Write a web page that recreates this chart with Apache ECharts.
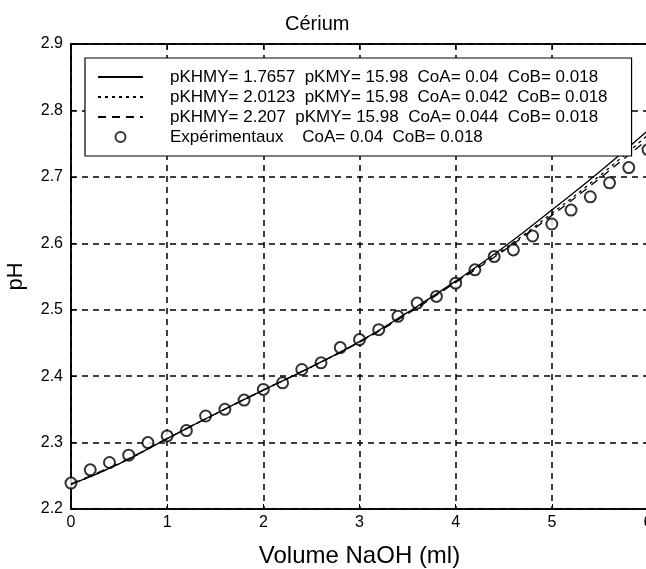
<!DOCTYPE html>
<html>
<head>
<meta charset="utf-8">
<script src="https://cdn.jsdelivr.net/npm/echarts@6/dist/echarts.min.js"></script>
<style>
  html, body { margin: 0; padding: 0; background: #fff; }
  #chart { width: 646px; height: 569px; }
</style>
</head>
<body>
<div id="chart"></div>
<script>
// model curves, read every 0.5 ml
const curveX = [0, 0.5, 1, 1.5, 2, 2.5, 3, 3.5, 4, 4.5, 5, 5.5, 6];
const fit1 = [2.237, 2.268, 2.306, 2.343, 2.379, 2.414, 2.452, 2.496, 2.543, 2.594, 2.650, 2.708, 2.770];
const fit2 = [2.237, 2.268, 2.306, 2.343, 2.379, 2.414, 2.452, 2.495, 2.542, 2.591, 2.645, 2.702, 2.763];
const fit3 = [2.238, 2.269, 2.306, 2.343, 2.379, 2.414, 2.451, 2.494, 2.541, 2.589, 2.642, 2.698, 2.757];

// experimental points, every 0.2 ml
const expX = [0, 0.2, 0.4, 0.6, 0.8, 1, 1.2, 1.4, 1.6, 1.8, 2, 2.2, 2.4, 2.6, 2.8, 3,
  3.2, 3.4, 3.6, 3.8, 4, 4.2, 4.4, 4.6, 4.8, 5, 5.2, 5.4, 5.6, 5.8, 6];
const expPH = [2.239, 2.259, 2.270, 2.281, 2.300, 2.310, 2.318, 2.340, 2.350, 2.364, 2.380,
  2.390, 2.410, 2.420, 2.443, 2.455, 2.470, 2.490, 2.510, 2.520, 2.540, 2.560, 2.580,
  2.590, 2.611, 2.629, 2.650, 2.670, 2.691, 2.714, 2.741];

const names = [
  'pKHMY= 1.7657  pKMY= 15.98  CoA= 0.04  CoB= 0.018',
  'pKHMY= 2.0123  pKMY= 15.98  CoA= 0.042  CoB= 0.018',
  'pKHMY= 2.207  pKMY= 15.98  CoA= 0.044  CoB= 0.018',
  'Expérimentaux    CoA= 0.04  CoB= 0.018'
];

const pairs = (xs, ys) => xs.map((x, i) => [x, ys[i]]);
const FONT = '"Liberation Sans", Arial, sans-serif';
const grid = { type: [6, 5], color: '#000', width: 1.5 };
const noDot = { opacity: 0 };

const chart = echarts.init(document.getElementById('chart'));
chart.setOption({
  backgroundColor: '#fff',
  animation: false,
  title: {
    text: 'Cérium',
    left: 280,
    top: 9,
    textStyle: { fontFamily: FONT, fontSize: 20, fontWeight: 'normal', color: '#000' }
  },
  legend: {
    orient: 'vertical',
    left: 85,
    top: 58,
    padding: [9, 24, 9, 12],
    itemGap: 0,
    itemWidth: 45,
    itemHeight: 10,
    backgroundColor: '#fff',
    borderColor: '#000',
    borderWidth: 1.2,
    textStyle: { fontFamily: FONT, fontSize: 17, color: '#000', padding: [0, 0, 0, 22], lineHeight: 20 },
    data: [
      { name: names[0], itemStyle: noDot },
      { name: names[1], itemStyle: noDot },
      { name: names[2], itemStyle: noDot },
      { name: names[3], icon: 'emptyCircle', itemStyle: { color: '#000', borderColor: '#000', borderWidth: 1.3 } }
    ]
  },
  grid: {
    show: true,
    left: 71,
    top: 44,
    width: 577,
    height: 465,
    outerBoundsMode: 'none',
    containLabel: false,
    borderColor: '#000',
    borderWidth: 1.5
  },
  xAxis: [
    {
      type: 'value',
      min: 0,
      max: 6,
      interval: 1,
      name: 'Volume NaOH (ml)',
      nameLocation: 'middle',
      nameGap: 35,
      nameTextStyle: { fontFamily: FONT, fontSize: 24, color: '#000' },
      axisLine: { lineStyle: { color: '#000', width: 1.5 } },
      axisTick: { inside: true, length: 5, lineStyle: { color: '#000' } },
      axisLabel: { fontFamily: FONT, fontSize: 16, color: '#000', margin: 6 },
      splitLine: { show: true, lineStyle: grid }
    },
    {
      type: 'value',
      position: 'top',
      min: 0,
      max: 6,
      interval: 1,
      axisLine: { lineStyle: { color: '#000', width: 1.5 } },
      axisTick: { inside: true, length: 5, lineStyle: { color: '#000' } },
      axisLabel: { show: false },
      splitLine: { show: false }
    }
  ],
  yAxis: {
    type: 'value',
    min: 2.2,
    max: 2.9,
    interval: 0.1,
    name: 'pH',
    nameLocation: 'middle',
    nameGap: 44,
    nameRotate: 90,
    nameTextStyle: { fontFamily: FONT, fontSize: 22, color: '#000' },
    axisLine: { lineStyle: { color: '#000', width: 1.5 } },
    axisTick: { inside: true, length: 5, lineStyle: { color: '#000' } },
    axisLabel: { fontFamily: FONT, fontSize: 16, color: '#000', margin: 8, formatter: v => v.toFixed(1) },
    splitLine: { show: true, lineStyle: grid }
  },
  series: [
    {
      name: names[0],
      type: 'line',
      smooth: true,
      symbol: 'none',
      lineStyle: { color: '#000', width: 1.3, type: 'solid' },
      itemStyle: { color: '#000' },
      data: pairs(curveX, fit1)
    },
    {
      name: names[1],
      type: 'line',
      smooth: true,
      symbol: 'none',
      lineStyle: { color: '#000', width: 1.3, type: [3, 4] },
      itemStyle: { color: '#000' },
      data: pairs(curveX, fit2)
    },
    {
      name: names[2],
      type: 'line',
      smooth: true,
      symbol: 'none',
      lineStyle: { color: '#000', width: 1.3, type: [8, 6] },
      itemStyle: { color: '#000' },
      data: pairs(curveX, fit3)
    },
    {
      name: names[3],
      type: 'scatter',
      symbol: 'emptyCircle',
      symbolSize: 11,
      itemStyle: { color: '#000', borderWidth: 1.4 },
      data: pairs(expX, expPH)
    }
  ]
});
</script>
</body>
</html>
